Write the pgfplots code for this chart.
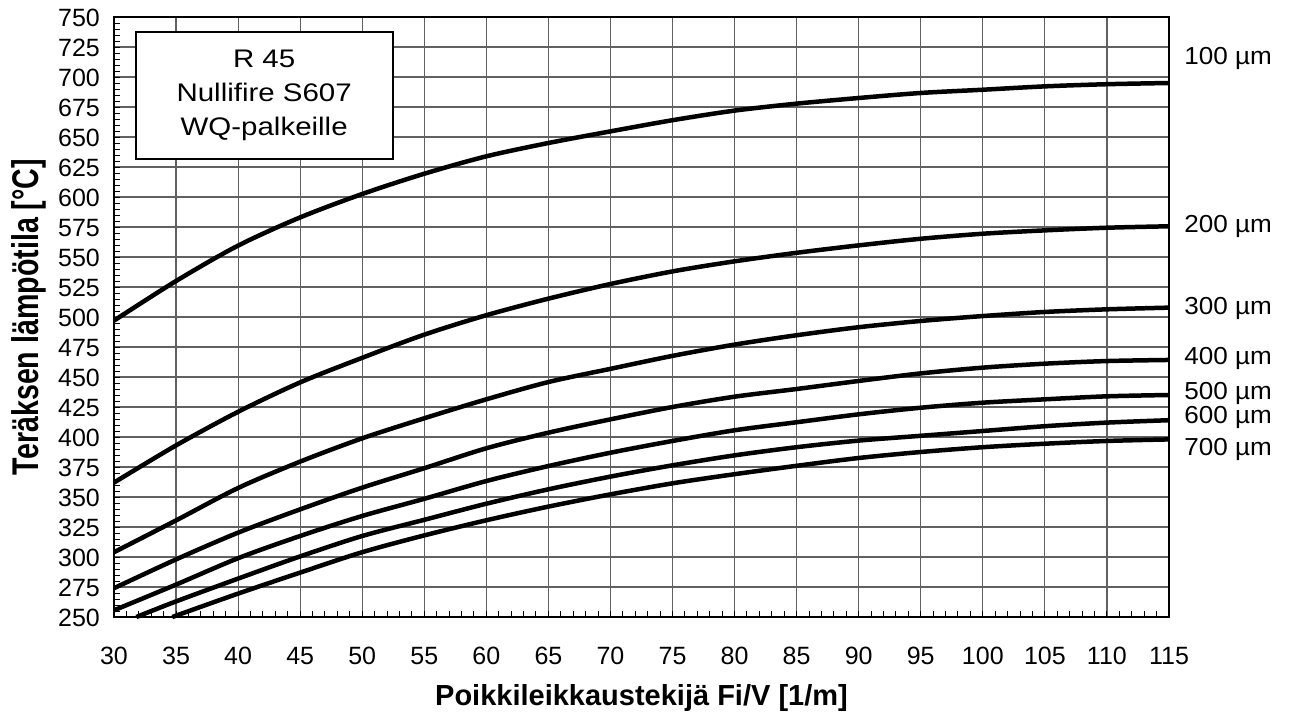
\documentclass[border=0pt]{standalone}
\usepackage{fontspec}
\usepackage{graphicx}
\setmainfont{Liberation Sans}
\newfontfamily\boxfont[FakeStretch=1.16]{Liberation Sans}
\newfontfamily\rfont[FakeStretch=1.06]{Liberation Sans}
\usepackage{pgfplots}
\pgfplotsset{compat=1.18}

\tikzset{
  rlab/.style={anchor=west, inner sep=0pt, xshift=7.5pt, font=\rfont\fontsize{12.3}{14}\selectfont},
  curve/.style={black, solid, line width=2.25pt, mark=none, smooth, tension=0.5},
}

\begin{document}
\begin{tikzpicture}
\begin{axis}[
    scale only axis,
    width=527.5pt, height=300pt,
    xmin=30, xmax=115, ymin=250, ymax=750,
    xtick={30,35,...,115},
    ytick={250,275,...,750},
    minor x tick num=4,
    minor y tick num=4,
    tick pos=left,
    tick align=inside,
    major tick length=3pt,
    minor tick length=3pt,
    every tick/.style={black, line width=0.5pt},
    grid=major,
    major grid style={black!62, line width=0.6pt},
    axis line style={black, line width=0.8pt},
    /pgf/number format/assume math mode=true,
    ticklabel style={font=\fontsize{12.5}{14}\selectfont},
    xticklabel style={anchor=base, yshift=-23.5pt},
    yticklabel style={anchor=base, xshift=-17.5pt, yshift=-4.5pt},
    xlabel={Poikkileikkaustekijä Fi/V [1/m]},
    ylabel={\scalebox{1}[1.3]{Teräksen lämpötila [°C]}},
    xlabel style={font=\fontsize{14.5}{16}\selectfont\bfseries, at={(axis description cs:0.5,-0.148)}, anchor=base},
    ylabel style={font=\fontsize{14.3}{16}\selectfont\bfseries, at={(axis description cs:-0.0806,0.5)}, anchor=center},
    clip=false,
]
% 100 um
\addplot[curve] coordinates {
 (30,497) (35,530) (40,559.5) (45,583) (50,602.5) (55,619.4) (60,633.9) (65,645)
 (70,654.7) (75,664) (80,672) (85,677.8) (90,682.5) (95,686.7) (100,689.4) (105,692.2) (110,694) (115,695)
};
% 200 um
\addplot[curve] coordinates {
 (30,362) (35,393) (40,421) (45,445.5) (50,466) (55,485.3) (60,501.5) (65,515.3)
 (70,527.5) (75,538) (80,546.4) (85,553.5) (90,559.7) (95,565.2) (100,569.4) (105,572.2) (110,574.4) (115,575.6)
};
% 300 um
\addplot[curve] coordinates {
 (30,304) (35,330.5) (40,357.5) (45,379.5) (50,398.9) (55,415.6) (60,431.4) (65,445.8)
 (70,456.8) (75,467.6) (80,477) (85,484.8) (90,491.5) (95,496.7) (100,500.8) (105,504.2) (110,506.4) (115,507.8)
};
% 400 um
\addplot[curve] coordinates {
 (30,274) (35,298) (40,320.3) (45,339.7) (50,357.8) (55,374) (60,390.6) (65,403.6)
 (70,414.7) (75,425) (80,433.6) (85,440) (90,446.7) (95,453) (100,457.8) (105,461.1) (110,463.3) (115,464.2)
};
% 500 um
\addplot[curve] coordinates {
 (30,255.6) (35,277) (40,299) (45,317.5) (50,334.2) (55,348.5) (60,363.3) (65,375.8)
 (70,386.9) (75,396.7) (80,405.6) (85,412.3) (90,418.9) (95,424.4) (100,428.6) (105,431.4) (110,433.9) (115,435)
};
% 600 um
\addplot[curve] coordinates {
 (31.8,250) (35,263) (40,282) (45,300.5) (50,317.5) (55,331) (60,344.4) (65,356.4)
 (70,367) (75,376.4) (80,384.7) (85,391.5) (90,397) (95,401) (100,405) (105,409) (110,412) (115,414)
};
% 700 um
\addplot[curve] coordinates {
 (34.7,250) (40,269.5) (45,287) (50,304) (55,318) (60,330.6) (65,342) (70,352.2)
 (75,361.4) (80,369) (85,376) (90,382.5) (95,387.5) (100,391.5) (105,394.4) (110,396.7) (115,398)
};

\draw[black, line width=0.6pt, fill=white] (axis cs:31.77,737.5) rectangle (axis cs:52.48,631.7);
\node[align=center, font=\boxfont\fontsize{12.7}{17}\selectfont] at (axis cs:42.1,684.4)
  {R 45\\Nullifire S607\\WQ-palkeille};

\node[rlab] at (axis cs:115,715.8) {100 µm};
\node[rlab] at (axis cs:115,575.8) {200 µm};
\node[rlab] at (axis cs:115,507.5) {300 µm};
\node[rlab] at (axis cs:115,465.8) {400 µm};
\node[rlab] at (axis cs:115,436.5) {500 µm};
\node[rlab] at (axis cs:115,416.5) {600 µm};
\node[rlab] at (axis cs:115,390) {700 µm};
\end{axis}
\path (current axis.south west) ++(-57pt,-49pt) rectangle ++(646pt,357.5pt);
\end{tikzpicture}
\end{document}
